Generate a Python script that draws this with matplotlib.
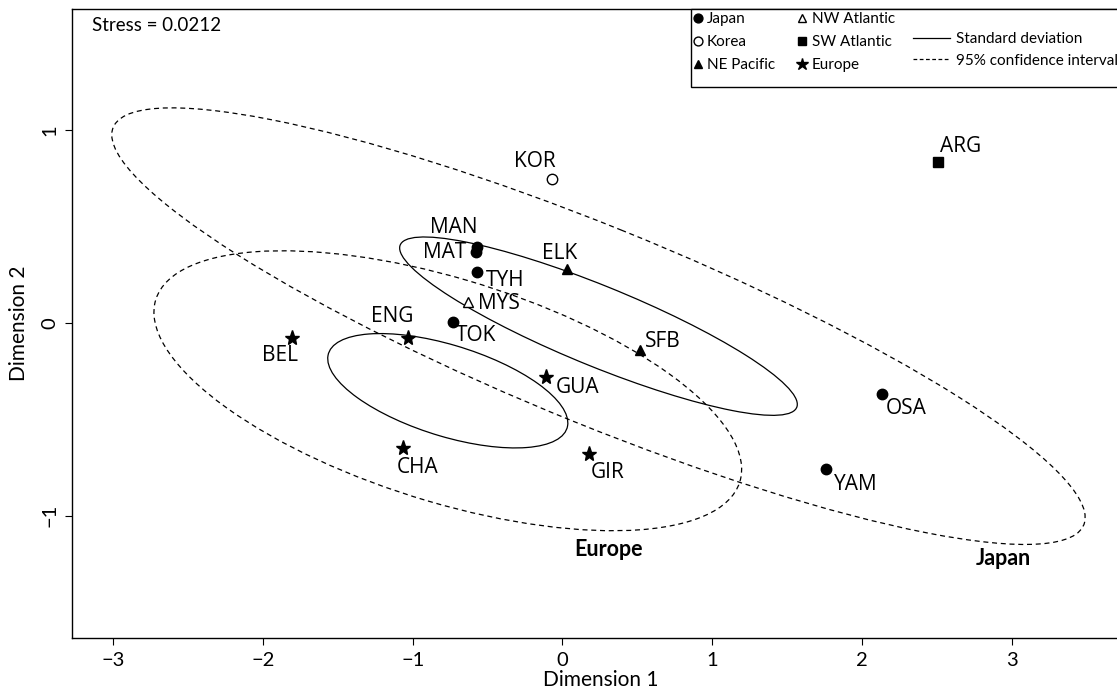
import numpy as np
import matplotlib
matplotlib.use("Agg")
import matplotlib.pyplot as plt
from matplotlib.patches import Ellipse, Rectangle
from matplotlib.lines import Line2D

# DATA (NMDS coordinates)
sites = ["MAN", "MAT", "TYH", "TOK", "OSA", "YAM", "KOR", "ELK", "SFB",
         "MYS", "ARG", "BEL", "ENG", "GUA", "CHA", "GIR"]
dim1 = [-0.569, -0.575, -0.571, -0.733, 2.129, 1.760, -0.073, 0.033, 0.520,
        -0.629, 2.509, -1.807, -1.029, -0.109, -1.062, 0.180]
dim2 = [0.395, 0.367, 0.263, 0.007, -0.370, -0.760, 0.748, 0.280, -0.140,
        0.111, 0.835, -0.076, -0.076, -0.279, -0.648, -0.680]
region = ["Japan", "Japan", "Japan", "Japan", "Japan", "Japan", "Korea",
          "NE Pacific", "NE Pacific", "NW Atlantic", "SW Atlantic",
          "Europe", "Europe", "Europe", "Europe", "Europe"]
regions = ["Japan", "Korea", "NE Pacific", "NW Atlantic", "SW Atlantic", "Europe"]
ellipse_groups = ["Japan", "Europe"]
stress = 0.0212

# label offsets (pixels) from each point
label_off = {
    "KOR": (-17, 18), "MAN": (-23, 19), "MAT": (-32, 0), "TYH": (28, -8),
    "MYS": (31, -2), "TOK": (23, -14), "ELK": (-8, 16), "SFB": (22, 8),
    "ENG": (-16, 21), "BEL": (-12, -18), "GUA": (31, -11), "CHA": (14, -20),
    "GIR": (18, -19), "ARG": (22, 16), "OSA": (25, -14), "YAM": (30, -15),
}
group_label_pos = {"Europe": (0.31, -1.175), "Japan": (2.94, -1.225)}

styles = {
    "Japan": dict(marker="o", mfc="black", ms=7.5),
    "Korea": dict(marker="o", mfc="white", ms=7.5),
    "NE Pacific": dict(marker="^", mfc="black", ms=7.5),
    "NW Atlantic": dict(marker="^", mfc="white", ms=7.5),
    "SW Atlantic": dict(marker="s", mfc="black", ms=7.5),
    "Europe": dict(marker="*", mfc="black", ms=11),
}

plt.rcParams["font.family"] = ["Lato", "DejaVu Sans"]

def main():
    fig = plt.figure(figsize=(11.17, 6.93), dpi=100)
    ax = fig.add_axes([72 / 1117, 1 - 638 / 693, 1058 / 1117, 629 / 693])

    x = np.array(dim1)
    y = np.array(dim2)
    reg = np.array(region)

    # ellipses: 1 SD and 95% confidence from the group covariance
    k95 = np.sqrt(-2 * np.log(0.05))
    for g in ellipse_groups:
        m = reg == g
        cov = np.cov(x[m], y[m])
        vals, vecs = np.linalg.eigh(cov)
        ang = np.degrees(np.arctan2(vecs[1, 1], vecs[0, 1]))
        c = (x[m].mean(), y[m].mean())
        for k, ls in [(1.0, "-"), (k95, (0, (4, 3)))]:
            e = Ellipse(c, 2 * k * np.sqrt(vals[1]), 2 * k * np.sqrt(vals[0]),
                        angle=ang, fill=False, ec="black", lw=0.9, ls=ls)
            ax.add_patch(e)
        ax.text(*group_label_pos[g], g, fontsize=15.5, fontweight="bold",
                ha="center", va="center")

    for r in regions:
        m = reg == r
        st = styles[r]
        ax.plot(x[m], y[m], ls="none", marker=st["marker"], ms=st["ms"],
                mfc=st["mfc"], mec="black", mew=1.0)

    for s, xi, yi in zip(sites, x, y):
        dx, dy = label_off[s]
        ax.annotate(s, (xi, yi), xytext=(dx, dy), textcoords="offset pixels",
                    ha="center", va="center", fontsize=15, family="Open Sans")

    ax.set_xlim(-3.273, 3.787)
    ax.set_ylim(-1.636, 1.631)
    ax.set_xticks([-3, -2, -1, 0, 1, 2, 3])
    ax.set_yticks([-1, 0, 1])
    ax.set_xticklabels(["\u22123", "\u22122", "\u22121", "0", "1", "2", "3"])
    ax.set_yticklabels(["\u22121", "0", "1"], rotation=90, va="center")
    ax.tick_params(direction="out", length=5, width=0.8, labelsize=14.5, pad=5)
    ax.set_xlabel("Dimension 1", fontsize=15, labelpad=1)
    ax.set_ylabel("Dimension 2", fontsize=15, labelpad=9)
    for sp in ax.spines.values():
        sp.set_linewidth(1.0)

    ax.text(0.0189, 0.973, "Stress = %.4f" % stress, transform=ax.transAxes,
            fontsize=13.5, ha="left", va="center")

    # legend box
    box = Rectangle((691 / 1117, 1 - 87 / 693), 0.5, 78 / 693,
                    transform=fig.transFigure, fill=True, fc="white",
                    ec="black", lw=1.0, zorder=5)
    fig.patches.append(box)
    handles = [Line2D([], [], ls="none", marker=styles[r]["marker"],
                      mfc=styles[r]["mfc"], mec="black",
                      ms=styles[r]["ms"] * 0.85) for r in regions]
    leg1 = fig.legend(handles, regions,
                      ncol=2, loc="upper left",
                      bbox_to_anchor=(693 / 1117, 1 - 12 / 693),
                      frameon=False, fontsize=11, handlelength=0.6,
                      handletextpad=0.3, columnspacing=1.5, labelspacing=0.6,
                      borderaxespad=0, borderpad=0)
    leg1.set_zorder(6)
    lh = [Line2D([], [], color="black", lw=0.9, ls="-"),
          Line2D([], [], color="black", lw=0.9, ls=(0, (3, 2)))]
    leg2 = fig.legend(lh, ["Standard deviation", "95% confidence interval"],
                      loc="upper left", bbox_to_anchor=(913 / 1117, 1 - 32 / 693),
                      frameon=False, fontsize=11, handlelength=2.4,
                      handletextpad=0.4, labelspacing=0.5,
                      borderaxespad=0, borderpad=0)
    leg2.set_zorder(6)

    fig.savefig("out.png", dpi=100)

if __name__ == "__main__":
    main()
